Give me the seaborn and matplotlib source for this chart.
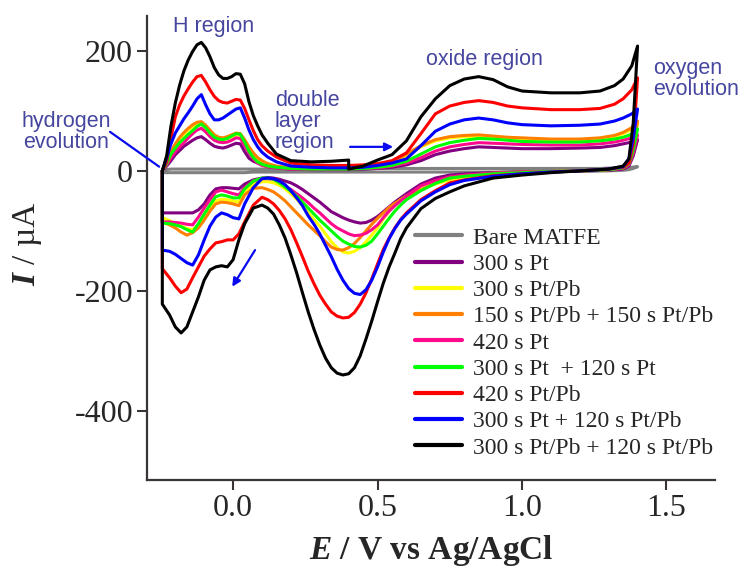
import matplotlib
matplotlib.use("Agg")
import matplotlib.pyplot as plt
import pandas as pd
import seaborn as sns

# ---------------- data ----------------
labels = ["Bare MATFE", "300 s Pt", "300 s Pt/Pb", "150 s Pt/Pb + 150 s Pt/Pb",
          "420 s Pt", "300 s Pt  + 120 s Pt", "420 s Pt/Pb",
          "300 s Pt + 120 s Pt/Pb", "300 s Pt/Pb + 120 s Pt/Pb"]
colors = ["#808080", "#800080", "#FFFF00", "#FF8000", "#FF0A8C",
          "#00FF00", "#FF0000", "#0000FF", "#000000"]

# anodic (forward) sweep potentials, V
E_up = [-0.245, -0.23, -0.215, -0.20, -0.185, -0.17, -0.155, -0.14, -0.125, -0.11,
        -0.095, -0.08, -0.065, -0.05, -0.035, -0.02, -0.005, 0.01, 0.025, 0.04,
        0.055, 0.07, 0.085, 0.10, 0.12, 0.15, 0.20, 0.27, 0.34, 0.40,
        0.40, 0.45, 0.50, 0.55, 0.60, 0.65, 0.70, 0.75, 0.80, 0.85,
        0.90, 0.95, 1.00, 1.10, 1.20, 1.27, 1.32, 1.35, 1.38, 1.40]
# cathodic (reverse) sweep potentials, V
E_dn = [1.40, 1.385, 1.37, 1.35, 1.30, 1.20, 1.10, 1.00, 0.90, 0.80, 0.75, 0.70, 0.65,
        0.60, 0.58, 0.56, 0.54, 0.52, 0.50, 0.48, 0.46, 0.44, 0.42, 0.40, 0.38, 0.36,
        0.34, 0.32, 0.30, 0.28, 0.26, 0.24, 0.22, 0.20, 0.18, 0.16, 0.14, 0.12, 0.10,
        0.07, 0.04, 0.02, 0.00,
        -0.02, -0.04, -0.06, -0.08, -0.10, -0.12, -0.14, -0.16, -0.18, -0.20, -0.22, -0.245]

gray_up = [0, 2, 3, 3, 3, 3, 3, 3, 3, 3, 3, 3, 3, 3, 3, 3, 3, 3, 3, 3,
           3, 3, 3, 3, 3, 3, 3, 3, 3, 3, 3, 3, 4, 4, 4, 4, 4, 4, 4, 4,
           4, 4, 4, 4, 4, 4, 5, 5, 6, 7]
gray_dn = [7, 4, 2, 1, 0, -1, -1, -1, -2, -2, -2, -2, -2,
           -2, -2, -2, -2, -2, -2, -2, -2, -2, -2, -2, -2, -2,
           -2, -2, -2, -2, -2, -2, -2, -2, -2, -2, -2, -2, -2,
           -2, -3, -3, -3,
           -3, -3, -3, -3, -3, -3, -3, -3, -3, -3, -3, -3]

purple_up = [0, 8, 17, 27, 34, 41, 46, 51, 55, 57, 52, 46, 41, 39, 38, 40, 43, 46, 45, 32,
             21, 16, 13, 10, 7, 5, 3, 2, 2, 2, 2, 3, 4, 6, 10, 17, 27, 33, 37, 40,
             39, 38, 37, 37, 38, 39, 42, 45, 48, 52]
purple_dn = [52, 25, 8, 3, 1, 0, -1, -2, -3, -5, -7, -12, -22,
             -38, -45, -52, -60, -68, -76, -82, -86, -87, -85, -82, -78, -73,
             -68, -60, -52, -45, -38, -31, -25, -20, -17, -14, -12, -11, -12,
             -15, -22, -30, -29,
             -28, -28, -30, -40, -55, -65, -70, -70, -70, -70, -70, -70]

yellow_up = [0, 14, 30, 43, 53, 61, 68, 73, 77, 78, 72, 64, 57, 53, 52, 54, 57, 60, 59, 49,
             37, 27, 20, 15, 11, 7, 5, 4, 4, 4, 4, 5, 7, 13, 25, 40, 50, 55, 57, 58,
             56, 54, 53, 51, 51, 53, 57, 62, 69, 80]
yellow_dn = [80, 38, 13, 5, 2, 0, -1, -3, -5, -10, -15, -22, -30,
             -42, -48, -56, -67, -80, -95, -107, -118, -128, -134, -137, -135, -128,
             -118, -105, -92, -81, -70, -58, -47, -38, -30, -24, -20, -18, -18,
             -22, -35, -52, -50,
             -48, -47, -50, -62, -77, -90, -98, -96, -92, -88, -83, -78]

orange_up = [0, 15, 32, 45, 56, 64, 71, 77, 81, 82, 76, 68, 60, 56, 55, 57, 60, 63, 62, 52,
             40, 30, 22, 17, 12, 8, 5, 4, 4, 4, 4, 5, 8, 15, 28, 42, 52, 57, 59, 60,
             58, 56, 55, 53, 53, 55, 59, 64, 72, 83]
orange_dn = [83, 40, 14, 5, 2, 0, -1, -2, -4, -8, -12, -20, -32,
             -43, -48, -54, -61, -70, -79, -89, -100, -111, -121, -128, -132, -131,
             -127, -118, -108, -99, -90, -80, -70, -60, -50, -42, -35, -31, -28,
             -29, -40, -58, -55,
             -53, -52, -55, -67, -82, -95, -103, -107, -102, -95, -90, -85]

pink_up = [0, 10, 22, 32, 40, 47, 55, 62, 68, 71, 65, 57, 51, 48, 47, 48, 51, 55, 54, 42,
           30, 20, 13, 9, 7, 5, 3, 3, 3, 3, 3, 4, 5, 8, 13, 22, 33, 40, 44, 47,
           46, 45, 44, 43, 43, 45, 48, 51, 55, 60]
pink_dn = [60, 30, 10, 4, 2, 0, -1, -2, -4, -7, -10, -16, -25,
           -42, -50, -58, -67, -78, -90, -98, -104, -107, -108, -105, -100, -95,
           -88, -79, -70, -62, -53, -45, -38, -31, -25, -19, -14, -13, -13,
           -17, -28, -40, -38,
           -35, -32, -35, -48, -62, -77, -90, -89, -87, -86, -85, -85]

green_up = [0, 12, 28, 38, 47, 54, 61, 67, 74, 78, 72, 63, 56, 53, 52, 54, 58, 62, 61, 48,
            33, 22, 15, 11, 8, 6, 4, 3, 3, 3, 3, 4, 6, 9, 16, 28, 40, 47, 51, 54,
            53, 51, 49, 48, 48, 50, 53, 56, 61, 70]
green_dn = [70, 35, 12, 5, 2, 0, -1, -3, -5, -9, -12, -21, -33,
            -48, -57, -67, -79, -92, -105, -117, -124, -127, -126, -122, -117, -109,
            -100, -91, -82, -72, -62, -52, -42, -34, -27, -20, -14, -12, -12,
            -17, -30, -45, -45,
            -42, -40, -43, -57, -72, -88, -102, -98, -93, -90, -88, -87]

red_up = [0, 15, 55, 90, 110, 125, 137, 148, 157, 159, 148, 135, 124, 117, 114, 113, 116, 119, 118, 104,
          85, 67, 52, 42, 33, 23, 13, 10, 9, 9, 9, 10, 12, 17, 30, 62, 95, 108, 114, 117,
          114, 108, 105, 102, 102, 104, 111, 120, 135, 155]
red_dn = [155, 45, 13, 6, 3, 0, -2, -5, -8, -15, -20, -33, -48,
          -70, -81, -95, -112, -131, -155, -180, -203, -222, -236, -244, -245, -242,
          -235, -222, -207, -188, -167, -143, -120, -98, -80, -66, -55, -48, -44,
          -57, -85, -105, -115,
          -115, -118, -120, -130, -142, -160, -178, -197, -203, -192, -178, -163]

blue_up = [0, 22, 45, 63, 75, 87, 97, 108, 120, 127, 110, 95, 85, 85, 88, 93, 98, 103, 105, 88,
           68, 52, 40, 31, 23, 15, 8, 6, 5, 5, 5, 6, 9, 13, 20, 42, 66, 78, 85, 88,
           85, 80, 77, 75, 76, 78, 83, 88, 95, 103]
blue_dn = [103, 55, 20, 7, 3, 0, -2, -5, -9, -16, -23, -35, -50,
           -72, -82, -96, -113, -135, -160, -182, -198, -206, -204, -196, -182, -164,
           -143, -124, -105, -89, -75, -58, -45, -33, -23, -17, -13, -12, -13,
           -28, -55, -80, -78,
           -73, -70, -77, -92, -115, -140, -157, -153, -146, -139, -134, -132]

black_up = [0, 25, 75, 113, 143, 167, 185, 199, 210, 214, 205, 190, 172, 160, 154, 154, 157, 162, 161, 145,
            115, 92, 75, 60, 46, 28, 17, 15, 16, 18, 3, 8, 18, 27, 50, 90, 120, 142, 153, 157,
            152, 140, 133, 130, 130, 133, 142, 153, 175, 208]
black_dn = [208, 80, 20, 8, 3, 0, -3, -7, -12, -25, -35, -46, -63,
            -95, -113, -137, -160, -187, -218, -250, -280, -308, -328, -338, -340, -337,
            -328, -312, -290, -264, -235, -203, -170, -140, -112, -90, -72, -62, -57,
            -62, -88, -115, -148,
            -160, -158, -160, -165, -182, -210, -235, -260, -270, -260, -240, -222]

up_curves = [gray_up, purple_up, yellow_up, orange_up, pink_up, green_up, red_up, blue_up, black_up]
dn_curves = [gray_dn, purple_dn, yellow_dn, orange_dn, pink_dn, green_dn, red_dn, blue_dn, black_dn]

# ---------------- long table: closed CV loops ----------------
rows = []
for lab, cu, cd in zip(labels, up_curves, dn_curves):
    E = E_up + E_dn + [E_up[0]]
    I = cu + cd + [cu[0]]
    for k, (e, i) in enumerate(zip(E, I)):
        rows.append((lab, k, e, i))
df = pd.DataFrame(rows, columns=["series", "step", "E", "I"])

# ---------------- styling ----------------
sns.set_style("ticks")
plt.rcParams["font.family"] = ["Liberation Serif", "DejaVu Serif"]
plt.rcParams["axes.unicode_minus"] = False
plt.rcParams["mathtext.fontset"] = "custom"
plt.rcParams["mathtext.rm"] = "Liberation Serif"
plt.rcParams["mathtext.it"] = "Liberation Serif:italic"
plt.rcParams["mathtext.bf"] = "Liberation Serif:bold"
plt.rcParams["mathtext.bfit"] = "Liberation Serif:bold:italic"

fig = plt.figure(figsize=(7.41, 5.67), dpi=100)
ax = fig.add_axes([147 / 741, 1 - 480 / 567, (715 - 147) / 741, (480 - 16) / 567])

sns.lineplot(data=df, x="E", y="I", hue="series", hue_order=labels,
             palette=dict(zip(labels, colors)), sort=False, estimator=None,
             lw=2.2, legend=False, ax=ax)

ax.set_xlim(-0.298, 1.668)
ax.set_ylim(-515, 258)
ax.set_xticks([0.0, 0.5, 1.0, 1.5])
ax.set_yticks([-400, -200, 0, 200])
sns.despine(ax=ax)
for side in ("left", "bottom"):
    ax.spines[side].set_color("#3a3535")
    ax.spines[side].set_linewidth(1.6)
ax.tick_params(axis="both", direction="out", length=7, width=1.5, color="#3a3535",
               labelsize=23, pad=3)

ax.set_xlabel(r"$\mathbfit{E}$ / V vs Ag/AgCl", fontsize=24, fontweight="bold")
ax.set_ylabel(r"$\mathbfit{I}$ / µA", fontsize=24)
ax.xaxis.set_label_coords(0.5, -0.115)
ax.yaxis.set_label_coords(-0.182, 0.508)

leg = ax.legend(handles=ax.get_lines()[:len(labels)], labels=labels,
                loc="upper left", bbox_to_anchor=(415 / 741, 1 - 227 / 567),
                bbox_transform=fig.transFigure, frameon=False, fontsize=17,
                handlelength=2.0, handletextpad=0.45, labelspacing=0.2,
                borderpad=0, borderaxespad=0)
for ln in leg.get_lines():
    ln.set_linewidth(3)

# ---------------- annotations ----------------
tc = "#4646A0"
afont = dict(family="Liberation Sans", fontsize=15.5, color=tc)
ax.text(-0.069, 240, "H region", ha="center", va="center", **afont)
ax.text(-0.578, 65, "hydrogen\nevolution", ha="center", va="center", linespacing=1.0, **afont)
ax.text(0.145, 82, "double\nlayer\nregion", ha="left", va="center", linespacing=1.0, **afont)
ax.text(0.869, 185, "oxide region", ha="center", va="center", **afont)
ax.text(1.453, 153, "oxygen\nevolution", ha="left", va="center", linespacing=1.0, **afont)

ac = "#0A0AF0"
ax.annotate("", xy=(-0.256, 7), xytext=(-0.426, 65), annotation_clip=False,
            arrowprops=dict(arrowstyle="-", color=ac, lw=1.6, shrinkA=0, shrinkB=0))
ax.annotate("", xy=(0.554, 40), xytext=(0.405, 40), annotation_clip=False,
            arrowprops=dict(arrowstyle="-|>", color=ac, lw=1.6, shrinkA=0, shrinkB=0,
                            mutation_scale=12))
ax.annotate("", xy=(-0.003, -193), xytext=(0.076, -132), annotation_clip=False,
            arrowprops=dict(arrowstyle="-|>", color=ac, lw=1.6, shrinkA=0, shrinkB=0,
                            mutation_scale=12))

fig.savefig("out.png", dpi=100)
